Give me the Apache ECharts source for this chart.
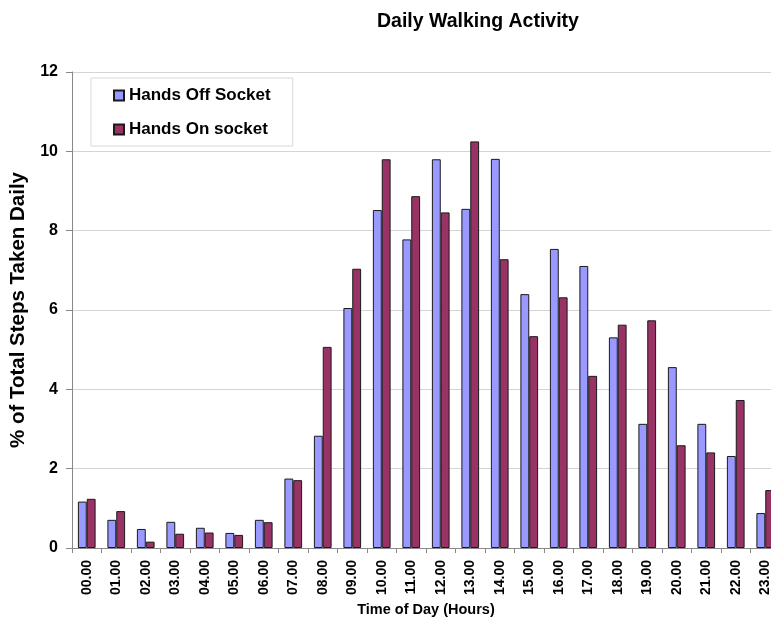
<!DOCTYPE html>
<html>
<head>
<meta charset="utf-8">
<script src="https://cdn.jsdelivr.net/npm/echarts@6/dist/echarts.min.js"></script>
<style>
    html, body { margin: 0; padding: 0; background: #fff; }
    #chartWalking { width: 771px; height: 617px; }
</style>
</head>
<body>
<div id="chartWalking"></div>
<script>
    // hours of the day
    var hours = ['00.00', '01.00', '02.00', '03.00', '04.00', '05.00', '06.00', '07.00',
        '08.00', '09.00', '10.00', '11.00', '12.00', '13.00', '14.00', '15.00',
        '16.00', '17.00', '18.00', '19.00', '20.00', '21.00', '22.00', '23.00'];
    // % of total steps
    var handsOff = [1.17, 0.71, 0.48, 0.66, 0.51, 0.38, 0.71, 1.75,
        2.83, 6.05, 8.52, 7.78, 9.80, 8.55, 9.81, 6.40,
        7.54, 7.11, 5.31, 3.13, 4.56, 3.13, 2.32, 0.88];
    var handsOn = [1.24, 0.93, 0.16, 0.36, 0.39, 0.33, 0.65, 1.71,
        5.07, 7.04, 9.80, 8.87, 8.46, 10.25, 7.28, 5.34,
        6.32, 4.34, 5.63, 5.74, 2.59, 2.41, 3.73, 1.46];
    var yTicks = { min: 0, max: 12, step: 2 };

    var font = 'Liberation Sans, Arial, sans-serif';

    var option = {
        animation: false,
        textStyle: { fontFamily: font },
        title: {
            text: 'Daily Walking Activity',
            left: 372,
            top: 7,
            textStyle: { fontFamily: font, fontSize: 19.5, fontWeight: 'bold', color: '#000' }
        },
        legend: {
            orient: 'vertical',
            left: 91,
            top: 78,
            padding: [9, 22, 8, 22],
            itemGap: 17,
            itemWidth: 10,
            itemHeight: 10,
            icon: 'rect',
            borderColor: '#d8d8d8',
            borderWidth: 1,
            textStyle: { fontFamily: font, fontSize: 17, fontWeight: 'bold', color: '#000' },
            data: ['Hands Off Socket', 'Hands On socket']
        },
        grid: {
            left: 72,
            top: 72,
            bottom: 69,
            width: 708,
            outerBoundsMode: 'none'
        },
        xAxis: {
            type: 'category',
            data: hours,
            name: 'Time of Day (Hours)',
            nameLocation: 'middle',
            nameGap: 53,
            nameTextStyle: { fontFamily: font, fontSize: 14.5, fontWeight: 'bold', color: '#000' },
            axisLine: { lineStyle: { color: '#888', width: 1 } },
            axisTick: { show: true, length: 5, lineStyle: { color: '#888' } },
            axisLabel: {
                rotate: 90,
                margin: 12,
                interval: 0,
                fontFamily: font,
                fontSize: 14,
                fontWeight: 'bold',
                color: '#000'
            }
        },
        yAxis: {
            type: 'value',
            min: yTicks.min,
            max: yTicks.max,
            interval: yTicks.step,
            name: '% of Total Steps Taken Daily',
            nameLocation: 'middle',
            nameGap: 36,
            nameTextStyle: { fontFamily: font, fontSize: 20.5, fontWeight: 'bold', color: '#000' },
            axisLine: { show: true, lineStyle: { color: '#888', width: 1 } },
            axisTick: { show: true, length: 6, lineStyle: { color: '#888' } },
            axisLabel: {
                margin: 14,
                fontFamily: font,
                fontSize: 16,
                fontWeight: 'bold',
                color: '#000'
            },
            splitLine: { lineStyle: { color: '#d4d4d4', width: 1 } }
        },
        series: [
            {
                name: 'Hands Off Socket',
                type: 'bar',
                barGap: '0%',
                barCategoryGap: '40%',
                itemStyle: { color: '#9999ff', borderColor: '#1a1a1a', borderWidth: 1 },
                data: handsOff
            },
            {
                name: 'Hands On socket',
                type: 'bar',
                barGap: '0%',
                barCategoryGap: '40%',
                itemStyle: { color: '#993366', borderColor: '#1a1a1a', borderWidth: 1 },
                data: handsOn
            }
        ]
    };

    var myChart = echarts.init(document.getElementById('chartWalking'));
    myChart.setOption(option);
</script>
</body>
</html>
